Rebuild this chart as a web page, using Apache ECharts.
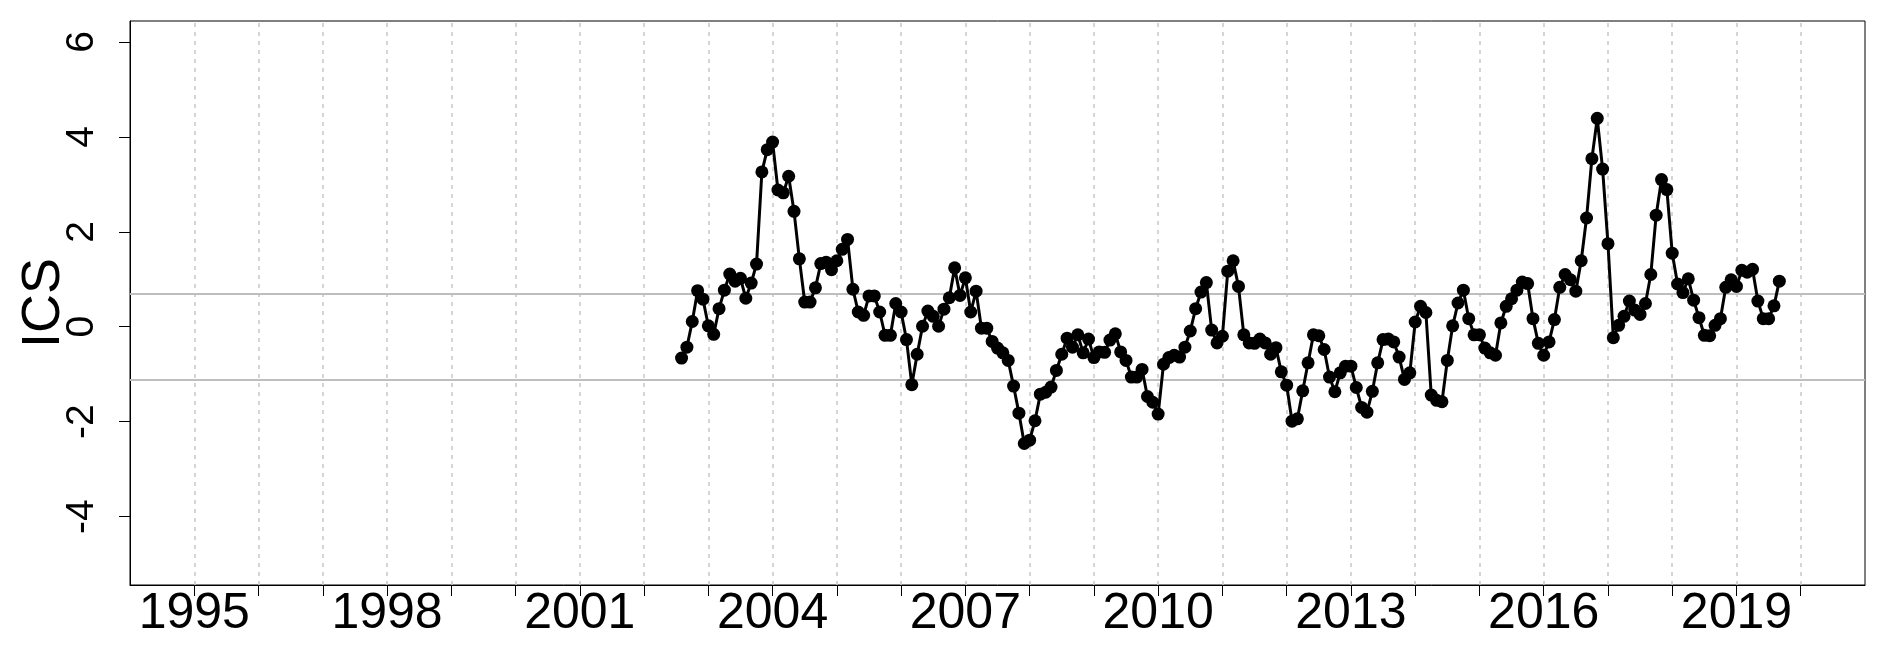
<!DOCTYPE html>
<html>
<head>
<meta charset="utf-8">
<script src="https://cdn.jsdelivr.net/npm/echarts@6/dist/echarts.min.js"></script>
<style>
html,body{margin:0;padding:0;background:#fff;}
#chart{width:1888px;height:672px;}
</style>
</head>
<body>
<div id="chart"></div>
<script>
// Monthly series starting August 2002
const startYear = 2002;
const startMonth = 8;
const icsValues = [
  -0.66, -0.43, 0.11, 0.76, 0.58,
  0.02, -0.16, 0.38, 0.77, 1.11, 0.96, 1.02, 0.60, 0.92, 1.32, 3.26, 3.73,
  3.89, 2.88, 2.82, 3.17, 2.43, 1.43, 0.52, 0.52, 0.82, 1.33, 1.36, 1.20,
  1.39, 1.63, 1.84, 0.79, 0.31, 0.24, 0.65, 0.65, 0.31, -0.18, -0.18, 0.49,
  0.31, -0.27, -1.22, -0.58, 0.01, 0.33, 0.22, 0.01, 0.37, 0.61, 1.24, 0.66,
  1.03, 0.31, 0.75, -0.03, -0.03, -0.31, -0.45, -0.55, -0.71, -1.25, -1.82, -2.46,
  -2.39, -1.98, -1.42, -1.38, -1.27, -0.92, -0.58, -0.24, -0.43, -0.17, -0.55, -0.26,
  -0.65, -0.53, -0.54, -0.28, -0.15, -0.53, -0.71, -1.06, -1.06, -0.90, -1.47, -1.59,
  -1.84, -0.79, -0.65, -0.60, -0.64, -0.43, -0.09, 0.38, 0.73, 0.93, -0.07, -0.34,
  -0.20, 1.17, 1.39, 0.85, -0.17, -0.34, -0.35, -0.26, -0.34, -0.58, -0.44, -0.95,
  -1.23, -1.99, -1.94, -1.35, -0.76, -0.17, -0.19, -0.48, -1.06, -1.37, -0.97, -0.83,
  -0.83, -1.28, -1.70, -1.80, -1.36, -0.76, -0.27, -0.26, -0.32, -0.64, -1.11, -0.97,
  0.10, 0.43, 0.30, -1.44, -1.55, -1.58, -0.71, 0.02, 0.50, 0.77, 0.17, -0.17,
  -0.17, -0.45, -0.55, -0.60, 0.08, 0.43, 0.59, 0.77, 0.94, 0.91, 0.17, -0.35,
  -0.60, -0.32, 0.15, 0.83, 1.10, 0.99, 0.75, 1.39, 2.29, 3.54, 4.39, 3.32,
  1.75, -0.23, 0.03, 0.22, 0.54, 0.35, 0.26, 0.49, 1.10, 2.35, 3.10, 2.89,
  1.55, 0.90, 0.72, 1.01, 0.56, 0.19, -0.18, -0.19, 0.03, 0.17, 0.83, 0.99,
  0.85, 1.19, 1.15, 1.21, 0.54, 0.17, 0.17, 0.44, 0.96
];
const referenceLines = [0.69, -1.11];
const xTickYears = [1995,1996,1997,1998,1999,2000,2001,2002,2003,2004,2005,2006,2007,2008,2009,2010,2011,2012,2013,2014,2015,2016,2017,2018,2019,2020];
const xLabelYears = [1995, 1998, 2001, 2004, 2007, 2010, 2013, 2016, 2019];
const yTickValues = [-4, -2, 0, 2, 4, 6];
const xRange = [1994, 2021];
const yRange = [-5.44, 6.44];

const seriesData = icsValues.map((v, i) => [startYear + (startMonth - 1 + i) / 12, v]);

const chart = echarts.init(document.getElementById('chart'), null, {renderer: 'canvas'});
chart.setOption({
  animation: false,
  backgroundColor: '#ffffff',
  grid: {
    left: 130, right: 23, top: 21, bottom: 87,
    containLabel: false, outerBoundsMode: 'none',
    show: true, borderColor: '#000', borderWidth: 1, backgroundColor: 'transparent'
  },
  xAxis: {
    type: 'value', min: xRange[0], max: xRange[1],
    axisLine: {show: true, onZero: false, lineStyle: {color: '#000', width: 1}},
    axisTick: {show: true, length: 11, customValues: xTickYears, lineStyle: {color: '#000'}},
    axisLabel: {
      customValues: xLabelYears, margin: 4, color: '#000',
      fontFamily: '"Liberation Sans Narrow", "Liberation Sans", sans-serif', fontSize: 50, lineHeight: 50,
      formatter: v => String(v)
    },
    splitLine: {show: false}
  },
  yAxis: {
    type: 'value', min: yRange[0], max: yRange[1],
    name: 'ICS', nameLocation: 'middle', nameGap: 59, nameRotate: 90, nameMoveOverlap: false,
    nameTextStyle: {fontFamily: '"Liberation Sans", sans-serif', fontSize: 54, color: '#000'},
    axisLine: {show: true, onZero: false, lineStyle: {color: '#000', width: 1}},
    axisTick: {show: true, length: 11, customValues: yTickValues, lineStyle: {color: '#000'}},
    axisLabel: {
      customValues: yTickValues, rotate: 90, margin: 28, color: '#000',
      fontFamily: '"Liberation Sans", sans-serif', fontSize: 39,
      formatter: v => String(v)
    },
    splitLine: {show: false}
  },
  series: [
    {
      type: 'line',
      data: [],
      silent: true,
      markLine: {
        silent: true, symbol: 'none', label: {show: false},
        lineStyle: {color: '#c8c8c8', type: [4, 5], width: 1.5},
        data: xTickYears.map(y => ({xAxis: y}))
      }
    },
    {
      type: 'line',
      data: [],
      silent: true,
      markLine: {
        silent: true, symbol: 'none', label: {show: false},
        lineStyle: {color: '#bebebe', type: 'solid', width: 2},
        data: referenceLines.map(v => ({yAxis: v}))
      }
    },
    {
      type: 'line',
      data: seriesData,
      symbol: 'circle',
      symbolSize: 13,
      showAllSymbol: true,
      lineStyle: {color: '#000', width: 3},
      itemStyle: {color: '#000'},
      z: 5
    }
  ]
});
</script>
</body>
</html>
